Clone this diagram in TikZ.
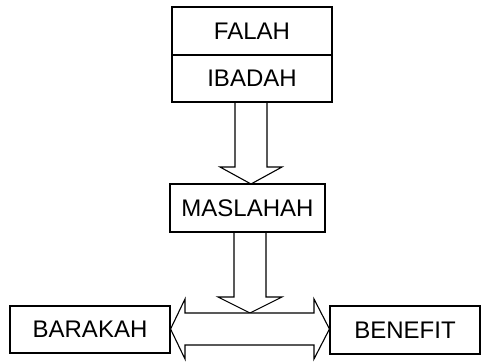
\documentclass[tikz,border=0pt]{standalone}
\usepackage{fontspec}
\setmainfont{Liberation Sans}
\usetikzlibrary{calc}
\begin{document}
\begin{tikzpicture}[x=1pt,y=-1pt,
  box/.style={draw=black,line width=1.1pt,fill=white,minimum width=#1,minimum height=48pt,inner sep=0pt,
    font=\fontsize{24}{28}\selectfont},
  blk/.style={draw=black,line width=1.1pt,fill=white,line join=miter}]
\useasboundingbox (0,0) rectangle (481,361);
% block arrows (drawn first, boxes on top)
\draw[blk] (235,102) -- (235,167) -- (220,167) -- (251,184) -- (282,167) -- (267,167) -- (267,102);
\draw[blk] (234,232) -- (234,297) -- (218,297) -- (250,313) -- (282,297) -- (266,297) -- (266,232);
\node[box=160pt,minimum height=48pt] (falah) at (252,31) {FALAH};
\node[box=160pt,minimum height=47pt] (ibadah) at (252,78.5) {IBADAH};
\node[box=155pt] (maslahah) at (247.5,208) {MASLAHAH};
\node[box=160pt,minimum height=47pt] (barakah) at (90,329.5) {BARAKAH};
\node[box=150pt] (benefit) at (405,330) {BENEFIT};
% double block arrow between barakah and benefit
\draw[blk] (barakah.east |- 0,329) -- (185,299) -- (185,313) -- (314,313) -- (314,299)
  -- (benefit.west |- 0,329) -- (314,359) -- (314,345) -- (185,345) -- (185,359) -- cycle;
\end{tikzpicture}
\end{document}
